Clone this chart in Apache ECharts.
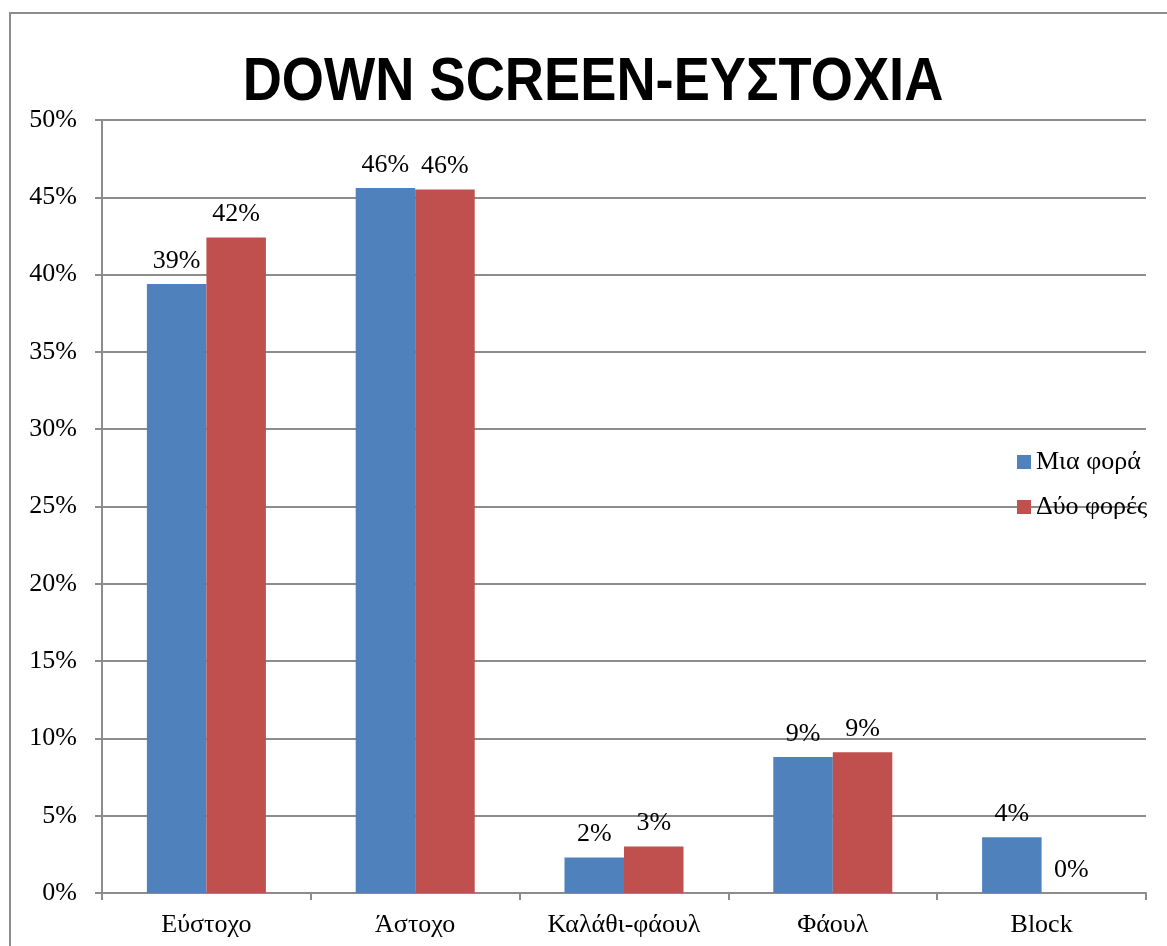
<!DOCTYPE html>
<html>
<head>
<meta charset="utf-8">
<script src="https://cdn.jsdelivr.net/npm/echarts@6/dist/echarts.min.js"></script>
<style>
  html, body { margin: 0; padding: 0; background: #fff; }
  #main { width: 1167px; height: 946px; }
</style>
</head>
<body>
<div id="main"></div>
<script>
  // κατηγορίες και τιμές (%)
  var categories = ['Εύστοχο', 'Άστοχο', 'Καλάθι-φάουλ', 'Φάουλ', 'Block'];
  var seriesNames = ['Μια φορά', 'Δύο φορές'];
  var onceValues = [39.4, 45.6, 2.3, 8.8, 3.6];
  var twiceValues = [42.4, 45.5, 3.0, 9.1, 0];

  var serif = '"Liberation Serif", "Times New Roman", serif';

  var myChart = echarts.init(document.getElementById('main'));

  function labelOpt() {
    return {
      show: true,
      position: 'top',
      distance: 10,
      color: '#000',
      fontFamily: serif,
      fontSize: 26,
      formatter: function (p) { return Math.round(p.value) + '%'; }
    };
  }

  var option = {
    animation: false,
    backgroundColor: '#fff',
    graphic: [{
      type: 'rect',
      shape: { x: 10, y: 13, width: 1200, height: 960 },
      style: { fill: 'none', stroke: '#8c8c8c', lineWidth: 2 },
      z: -1
    }, {
      // τίτλος, λίγο στενεμένος οριζόντια όπως στο πρωτότυπο
      type: 'text',
      x: 593,
      y: 83,
      scaleX: 0.875,
      style: {
        text: 'DOWN SCREEN-ΕΥΣΤΟΧΙΑ',
        font: 'bold 62px "Liberation Sans", Arial, sans-serif',
        fill: '#000',
        textAlign: 'center',
        textVerticalAlign: 'middle'
      }
    }],
    legend: {
      orient: 'vertical',
      left: 1017,
      top: 449,
      padding: 0,
      itemWidth: 14,
      itemHeight: 14,
      itemGap: 19,
      icon: 'rect',
      data: seriesNames,
      textStyle: { fontFamily: serif, fontSize: 26, color: '#000' }
    },
    grid: { left: 102, right: 21, top: 120, bottom: 53 },
    xAxis: {
      type: 'category',
      data: categories,
      axisLine: { lineStyle: { color: '#8c8c8c', width: 2 } },
      axisTick: { show: true, length: 7, lineStyle: { color: '#8c8c8c', width: 2 } },
      axisLabel: { color: '#000', fontFamily: serif, fontSize: 26, margin: 19 }
    },
    yAxis: {
      type: 'value',
      min: 0,
      max: 50,
      interval: 5,
      axisLine: { show: true, lineStyle: { color: '#8c8c8c', width: 2 } },
      axisTick: { show: true, length: 7, lineStyle: { color: '#8c8c8c', width: 2 } },
      splitLine: { lineStyle: { color: '#8c8c8c', width: 2 } },
      axisLabel: { color: '#000', fontFamily: serif, fontSize: 26, margin: 25, formatter: '{value}%' }
    },
    series: [{
      name: seriesNames[0],
      type: 'bar',
      data: onceValues,
      barGap: '0%',
      barCategoryGap: '43%',
      itemStyle: { color: '#4F81BD' },
      label: labelOpt()
    }, {
      name: seriesNames[1],
      type: 'bar',
      data: twiceValues,
      itemStyle: { color: '#C0504D' },
      label: labelOpt()
    }]
  };

  myChart.setOption(option);
</script>
</body>
</html>
